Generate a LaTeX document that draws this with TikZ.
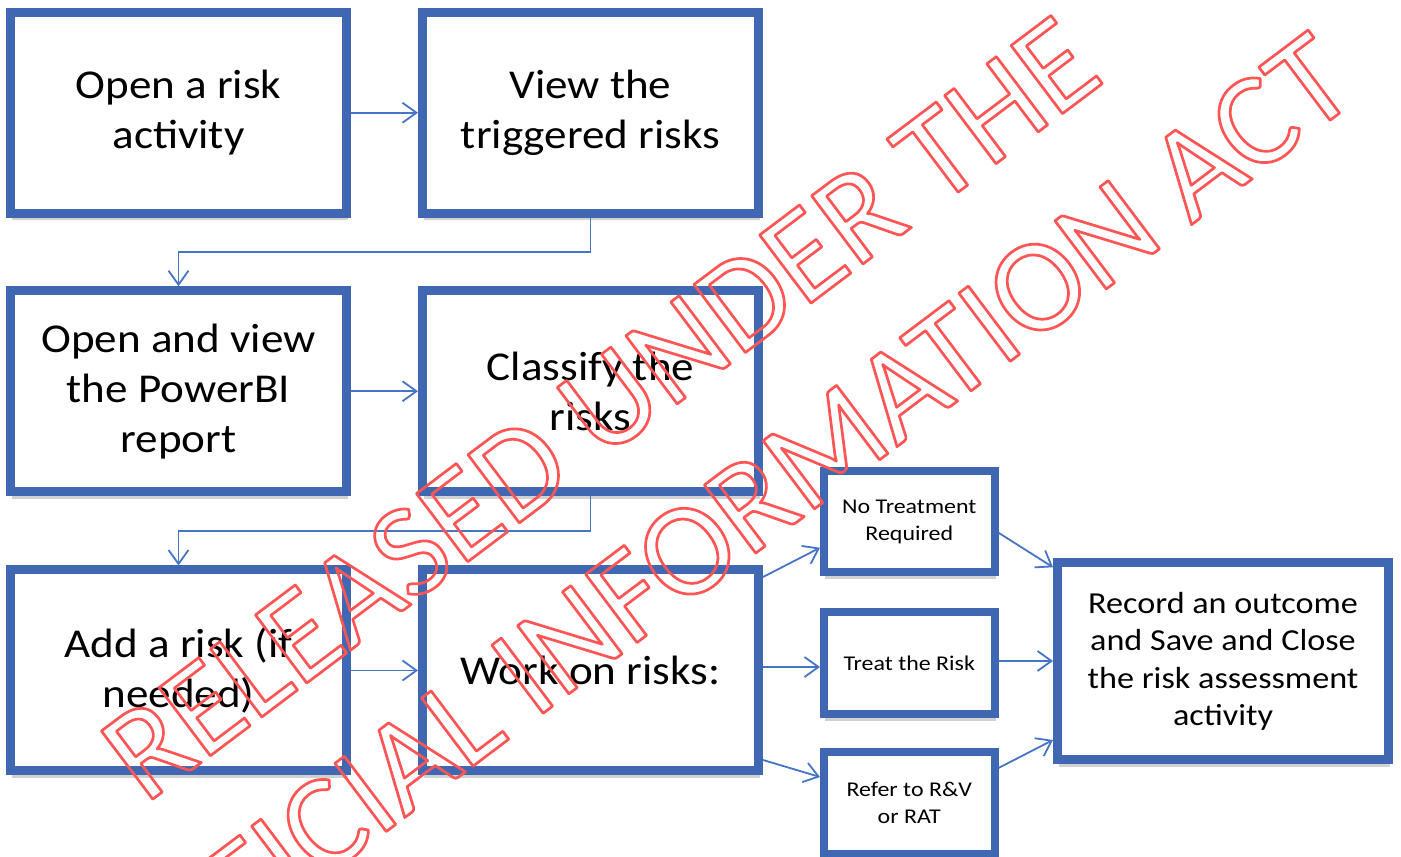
\documentclass[tikz,border=0pt]{standalone}
\usepackage{fontspec}
\setmainfont{Carlito}
\newfontfamily\bigfont[FakeStretch=1.10]{Carlito}
\newfontfamily\recfont[FakeStretch=1.12]{Carlito}
\newfontfamily\smallfont[FakeStretch=1.14]{Carlito}
\newfontfamily\wmfont{Carlito}
\usetikzlibrary{arrows.meta,shadows,calc}
\definecolor{boxblue}{HTML}{4068B2}
\definecolor{linkblue}{HTML}{4674C6}
\definecolor{wmred}{HTML}{FF5555}
\newcommand{\outlinetext}[1]{\special{pdf:literal direct 1 Tr 2.7 w 1 j}#1\special{pdf:literal direct 0 Tr}}
\begin{document}
\begin{tikzpicture}[x=1pt,y=1pt,
  boxbase/.style={draw=boxblue, fill=white, align=center, inner sep=0pt,
    drop shadow={shadow xshift=1pt, shadow yshift=-7pt, opacity=0.18, fill=black}},
  bigbox/.style={boxbase, line width=9pt, minimum width=336pt, minimum height=201pt,
    font=\bigfont\fontsize{41}{50}\selectfont},
  smallbox/.style={boxbase, line width=8pt, minimum width=170.5pt, minimum height=101.5pt,
    font=\smallfont\fontsize{21}{26.5}\selectfont},
  recbox/.style={boxbase, line width=9pt, minimum width=331pt, minimum height=197.5pt,
    font=\recfont\fontsize{30.5}{37.4}\selectfont},
  link/.style={draw=linkblue, line width=1.8pt, -{Straight Barb[length=14pt,width=20pt]}},
  wm/.style={text=wmred, rotate=37, inner sep=0pt, font=\wmfont\fontsize{133}{160}\selectfont}]
\useasboundingbox (0,0) rectangle (1401,857);
\fill[white] (0,0) rectangle (1401,857);
\clip (0,0) rectangle (1401,857);

\node[bigbox] (b1) at (178.5,744.25) {Open a risk\\activity};
\node[bigbox] (b2) at (590.5,744.25) {View the\\triggered risks};
\node[bigbox] (b3) at (178.5,465.75) {Open and view\\the PowerBI\\report};
\node[bigbox] (b4) at (590.5,465.75) {Classify the\\risks};
\node[bigbox] (b5) at (178.5,186.5) {Add a risk (if\\needed)};
\node[bigbox] (b6) at (590.5,186.5) {Work on risks:};
\node[smallbox] (nt) at (909.25,335.25) {No Treatment\\Required};
\node[smallbox] (tr) at (909.25,194) {Treat the Risk};
\node[smallbox] (rf) at (909.25,54) {Refer to R\&V\\or RAT};
\node[recbox] (rc) at (1223,195.75) {Record an outcome\\and Save and Close\\the risk assessment\\activity};

\draw[link] (b1.east) -- (b2.west);
\draw[link] (b2.south) -- ++(0,-34.5) -| (b3.north);
\draw[link] (b3.east) -- (b4.west);
\draw[link] (b4.south) -- ++(0,-34.5) -| (b5.north);
\draw[link] (b5.east) -- (b6.west);
\draw[link] ([yshift=93.5pt]b6.east) -- ([yshift=-26pt]nt.west);
\draw[link] ([yshift=-4pt]tr.west -| b6.east) -- ([yshift=-4pt]tr.west);
\draw[link] ([yshift=-89.5pt]b6.east) -- ([yshift=26pt]rf.west);
\draw[link] ([yshift=-11pt]nt.east) -- ([yshift=94pt]rc.west);
\draw[link] ([yshift=2pt]tr.east) -- ([yshift=2pt]tr.east -| rc.west);
\draw[link] ([yshift=35pt]rf.east) -- ([yshift=-78.75pt]rc.west);

\node[wm, anchor=base west] (wm1) at (145,52) {\outlinetext{RELEASED UNDER THE}};
\node[wm, anchor=base east] (wm2) at (1361,760) {\outlinetext{OFFICIAL INFORMATION ACT}};
\end{tikzpicture}
\end{document}
